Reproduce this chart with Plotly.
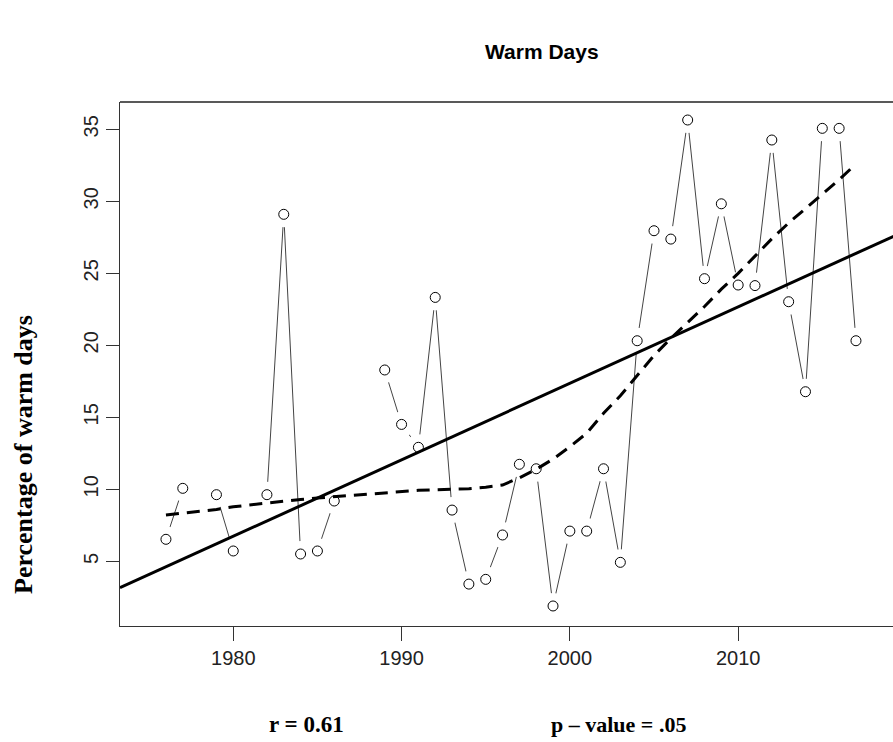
import plotly.graph_objects as go

# ---------------- data ----------------
years = list(range(1976, 2018))
warm_pct = [6.53, 10.07, None, 9.63, 5.72, None, 9.63, 29.1, 5.51, 5.72,
            9.19, None, None, 18.29, 14.51, 12.92, 23.33, 8.56, 3.42, 3.75,
            6.83, 11.74, 11.43, 1.9, 7.1, 7.1, 11.43, 4.93, 20.32, 27.96,
            27.38, 35.65, 24.63, 29.83, 24.19, 24.15, 34.26, 23.03, 16.78, 35.07,
            35.07, 20.32]

lowess_years = [1976, 1977, 1979, 1980, 1982, 1983, 1984, 1985, 1986, 1989,
                1990, 1991, 1992, 1993, 1994, 1995, 1996, 1997, 1998, 1999,
                2000, 2001, 2002, 2003, 2004, 2005, 2006, 2007, 2008, 2009,
                2010, 2011, 2012, 2013, 2014, 2015, 2016, 2017]
lowess_vals = [8.22, 8.35, 8.6, 8.79, 9.05, 9.21, 9.3, 9.4, 9.49, 9.8,
               9.88, 9.93, 9.97, 10.0, 10.05, 10.15, 10.3, 10.8, 11.39, 12.1,
               12.96, 13.9, 15.28, 16.5, 17.9, 19.3, 20.49, 21.6, 22.7, 23.9,
               25.0, 26.2, 27.4, 28.5, 29.5, 30.5, 31.5, 32.6]

trend_ref_year = 1980
trend_at_ref = 6.74
trend_slope = 0.531

x_ticks = [1980, 1990, 2000, 2010]
y_ticks = [5, 10, 15, 20, 25, 30, 35]

title_text = "Warm Days"
y_label = "Percentage of warm days"
r_text = "r = 0.61"
p_text = "p \u2013 value = .05"

# ---------------- layout geometry ----------------
W, H = 893, 742
L, R, T, B = 120, 0, 102, 116
x_range = [1973.27, 2019.2]
y_range = [0.51, 36.9]
pw, ph = W - L - R, H - T - B


def px_x(p):
    return (p - L) / pw


def px_y(p):
    return (H - B - p) / ph


fig = go.Figure()

# connecting lines (type "b")
fig.add_trace(go.Scatter(x=years, y=warm_pct, mode="lines",
                         line=dict(color="#444444", width=1),
                         connectgaps=False, hoverinfo="skip", showlegend=False))
# white masks around points to create the gaps
fig.add_trace(go.Scatter(x=years, y=warm_pct, mode="markers",
                         marker=dict(symbol="circle", size=26, color="white",
                                     line=dict(width=0)),
                         hoverinfo="skip", showlegend=False))
# open circles
fig.add_trace(go.Scatter(x=years, y=warm_pct, mode="markers",
                         marker=dict(symbol="circle", size=10, color="white",
                                     line=dict(color="black", width=1)),
                         showlegend=False))

# linear trend across the full x range
tx = [x_range[0], x_range[1] + 5]
ty = [trend_at_ref + trend_slope * (v - trend_ref_year) for v in tx]
fig.add_trace(go.Scatter(x=tx, y=ty, mode="lines",
                         line=dict(color="black", width=3),
                         hoverinfo="skip", showlegend=False))

# lowess curve
fig.add_trace(go.Scatter(x=lowess_years, y=lowess_vals, mode="lines",
                         line=dict(color="black", width=3, dash="13px,8px"),
                         hoverinfo="skip", showlegend=False))

axis_font = dict(family="Liberation Sans, Arial, sans-serif", size=20, color="#222")

fig.update_layout(
    width=W, height=H,
    margin=dict(l=L, r=R, t=T, b=B, pad=0),
    paper_bgcolor="white", plot_bgcolor="white",
    xaxis=dict(range=x_range, tickvals=x_ticks, ticks="outside", ticklen=14,
               tickwidth=1, tickcolor="#333", showline=True, linecolor="#333",
               linewidth=1, showgrid=False, zeroline=False, tickfont=axis_font,
               fixedrange=True),
    yaxis=dict(range=y_range, tickvals=y_ticks, ticks="outside", ticklen=13,
               tickwidth=1, tickcolor="#333", showline=True, linecolor="#333",
               linewidth=1, showgrid=False, zeroline=False, tickfont=axis_font,
               tickangle=-90, fixedrange=True),
    shapes=[dict(type="line", xref="paper", yref="paper", x0=0, x1=1.01,
                 y0=1, y1=1, line=dict(color="#222", width=1.5))],
    annotations=[
        dict(text="<b>" + title_text + "</b>", xref="paper", yref="paper",
             x=px_x(542), y=px_y(52), xanchor="center", yanchor="middle",
             showarrow=False,
             font=dict(family="Liberation Sans, Arial, sans-serif", size=21,
                       color="black")),
        dict(text="<b>" + y_label + "</b>", xref="paper", yref="paper",
             x=px_x(23), y=px_y(455), xanchor="center", yanchor="middle",
             textangle=-90, showarrow=False,
             font=dict(family="Liberation Serif, Times New Roman, serif",
                       size=26, color="black")),
        dict(text="<b>" + r_text + "</b>", xref="paper", yref="paper",
             x=px_x(306), y=px_y(724), xanchor="center", yanchor="middle",
             showarrow=False,
             font=dict(family="Liberation Serif, Times New Roman, serif",
                       size=23, color="black")),
        dict(text="<b>" + p_text + "</b>", xref="paper", yref="paper",
             x=px_x(618), y=px_y(724), xanchor="center", yanchor="middle",
             showarrow=False,
             font=dict(family="Liberation Serif, Times New Roman, serif",
                       size=22, color="black")),
    ],
)

fig.write_html("out.html")
